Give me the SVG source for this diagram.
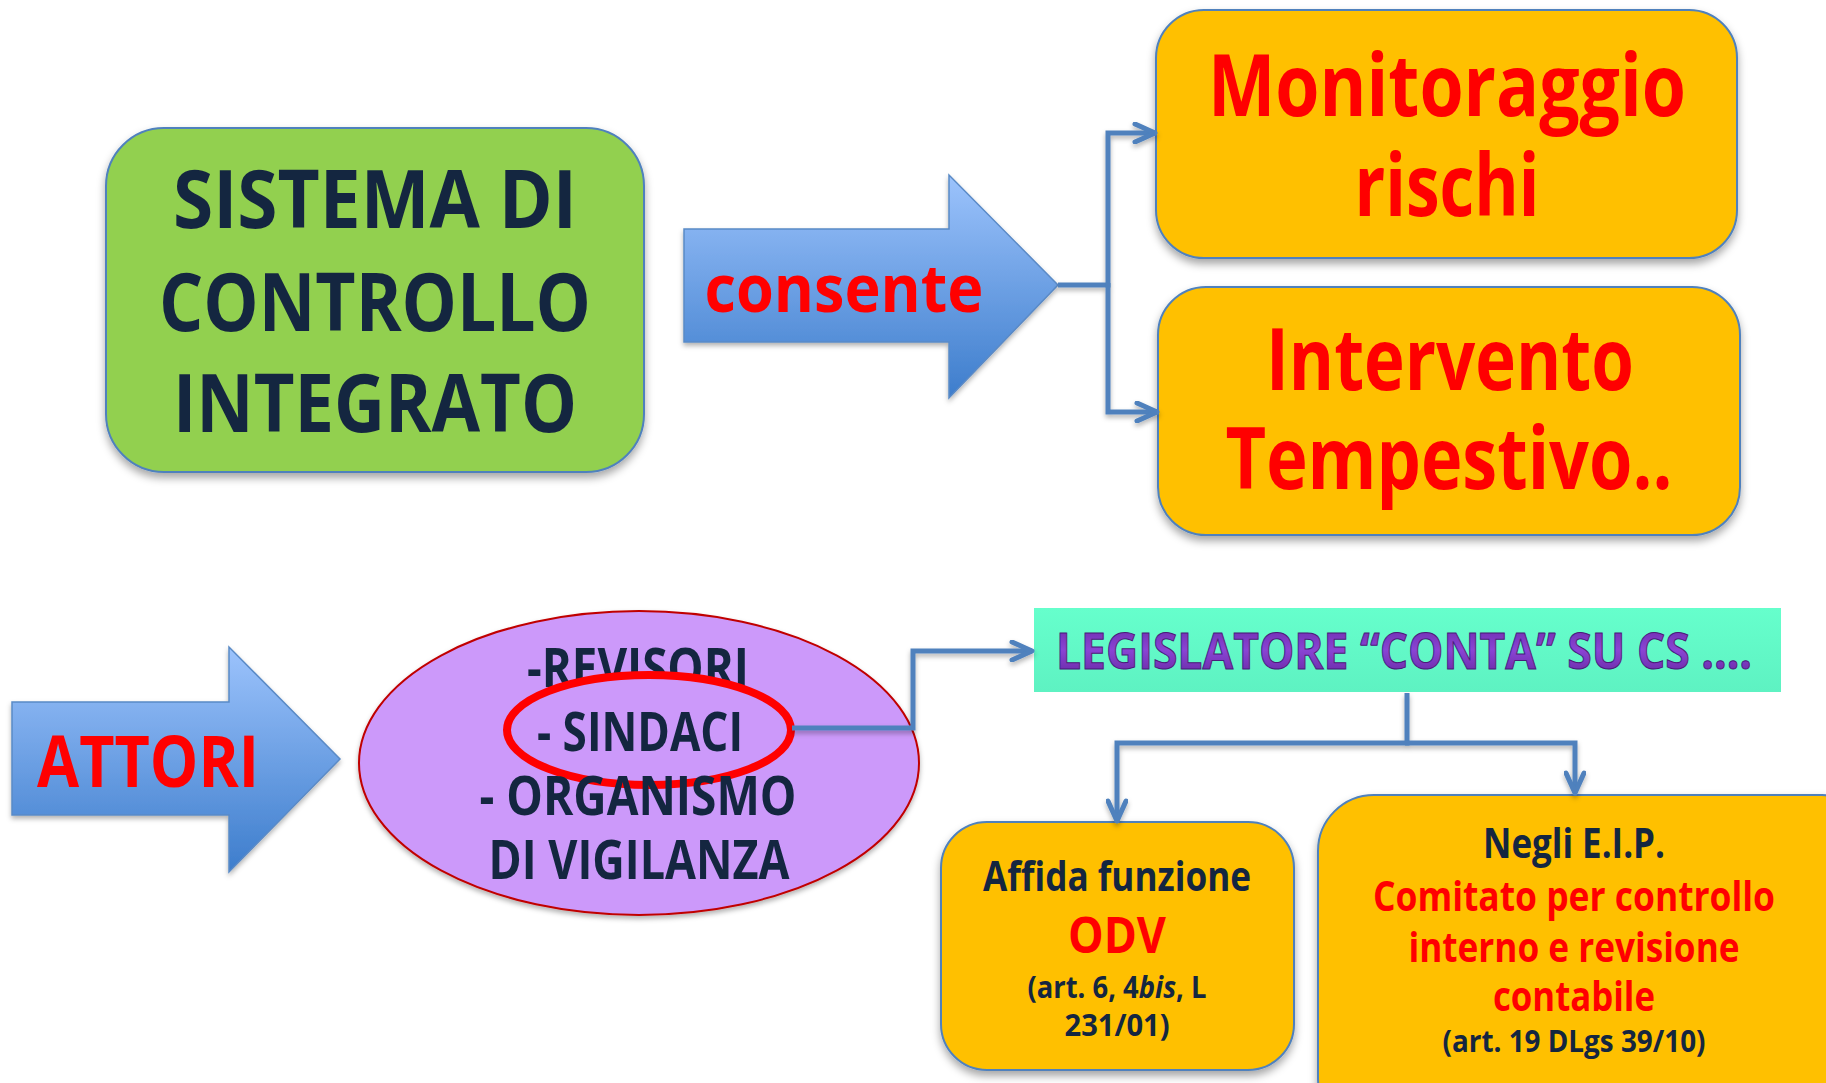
<svg xmlns="http://www.w3.org/2000/svg" width="1826" height="1083" viewBox="0 0 1826 1083">
<style>
  .t { font-family: "Open Sans", "Liberation Sans", sans-serif; font-weight: 700; text-anchor: middle; }
  .navy { fill: #142640; }
  .red { fill: #ff0000; }
  .box { stroke: #4f81bd; stroke-width: 2; }
  .org { fill: #ffc000; }
  .conn { fill: none; stroke: #4f81bd; stroke-width: 5; stroke-linejoin: miter; }
</style>
<defs>
  <filter id="sh" x="-10%" y="-10%" width="120%" height="130%">
    <feDropShadow dx="0" dy="5" stdDeviation="4" flood-color="#000" flood-opacity="0.35"/>
  </filter>
  <filter id="shs" x="-10%" y="-10%" width="120%" height="130%">
    <feDropShadow dx="0" dy="3" stdDeviation="2.5" flood-color="#000" flood-opacity="0.3"/>
  </filter>
  <linearGradient id="blue" x1="0" y1="0" x2="0" y2="1">
    <stop offset="0" stop-color="#9cc3fc"/>
    <stop offset="1" stop-color="#3d7dcc"/>
  </linearGradient>
  <linearGradient id="purp" x1="0" y1="0" x2="0" y2="1">
    <stop offset="0" stop-color="#6424a0"/>
    <stop offset="0.5" stop-color="#8a44d4"/>
    <stop offset="1" stop-color="#5e2296"/>
  </linearGradient>
  <linearGradient id="tealfade" x1="0" y1="0" x2="0" y2="1">
    <stop offset="0" stop-color="#66ffcc"/>
    <stop offset="1" stop-color="#5ef2c2"/>
  </linearGradient>
  <marker id="ah" markerUnits="userSpaceOnUse" viewBox="0 0 26 22" refX="23" refY="11" markerWidth="26" markerHeight="22" orient="auto">
    <path d="M3,2 L23,11 L3,20" fill="none" stroke="#4f81bd" stroke-width="5" stroke-linecap="round" stroke-linejoin="round"/>
  </marker>
</defs>

<g id="sistema">
  <rect x="106" y="128" width="538" height="344" rx="58" fill="#92d050" class="box" filter="url(#sh)"/>
  <text class="t navy" x="375" y="228" font-size="80" textLength="404" lengthAdjust="spacingAndGlyphs">SISTEMA DI</text>
  <text class="t navy" x="375" y="331" font-size="80" textLength="432" lengthAdjust="spacingAndGlyphs">CONTROLLO</text>
  <text class="t navy" x="375" y="432" font-size="80" textLength="404" lengthAdjust="spacingAndGlyphs">INTEGRATO</text>
</g>

<g id="consente">
  <path d="M684,229 H949 V175 L1058,285 L949,398 V342 H684 Z" fill="url(#blue)" stroke="#5a8ac6" stroke-width="1.5" filter="url(#shs)"/>
  <text class="t red" x="844" y="312" font-size="66" textLength="279" lengthAdjust="spacingAndGlyphs">consente</text>
</g>

<g id="monitoraggio">
  <rect x="1156" y="10" width="581" height="248" rx="48" class="box org" filter="url(#sh)"/>
  <text class="t red" x="1447" y="116" font-size="86" textLength="478" lengthAdjust="spacingAndGlyphs">Monitoraggio</text>
  <text class="t red" x="1447" y="216" font-size="86" textLength="185" lengthAdjust="spacingAndGlyphs">rischi</text>
</g>

<g id="intervento">
  <rect x="1158" y="287" width="582" height="248" rx="48" class="box org" filter="url(#sh)"/>
  <text class="t red" x="1450" y="390" font-size="86" textLength="368" lengthAdjust="spacingAndGlyphs">Intervento</text>
  <text class="t red" x="1449" y="489" font-size="86" textLength="447" lengthAdjust="spacingAndGlyphs">Tempestivo..</text>
</g>

<g id="attori">
  <path d="M12,702 H229 V647 L340,759 L229,872 V815 H12 Z" fill="url(#blue)" stroke="#5a8ac6" stroke-width="1.5" filter="url(#shs)"/>
  <text class="t red" x="148" y="787" font-size="72" textLength="222" lengthAdjust="spacingAndGlyphs">ATTORI</text>
</g>

<g id="soggetti">
  <ellipse cx="639" cy="763" rx="280" ry="152" fill="#cc99fa" stroke="#c00000" stroke-width="2" filter="url(#shs)"/>
  <text class="t navy" x="638" y="687" font-size="54" textLength="222" lengthAdjust="spacingAndGlyphs">-REVISORI</text>
  <ellipse cx="649" cy="730" rx="142" ry="55" fill="#cc99fa" stroke="#ff0000" stroke-width="8"/>
  <text class="t navy" x="640" y="751" font-size="54" textLength="206" lengthAdjust="spacingAndGlyphs">- SINDACI</text>
  <text class="t navy" x="638" y="815" font-size="54" textLength="317" lengthAdjust="spacingAndGlyphs">- ORGANISMO</text>
  <text class="t navy" x="639" y="879" font-size="54" textLength="301" lengthAdjust="spacingAndGlyphs">DI VIGILANZA</text>
</g>

<g id="legislatore">
  <rect x="1034" y="608" width="747" height="84" fill="url(#tealfade)"/>
  <text class="t" x="1404" y="669" font-size="50" textLength="696" lengthAdjust="spacingAndGlyphs" fill="url(#purp)" stroke="#4a1a7a" stroke-width="1">LEGISLATORE “CONTA” SU CS ....</text>
</g>

<g id="odv">
  <rect x="941" y="822" width="353" height="248" rx="46" class="box org" filter="url(#sh)"/>
  <text class="t navy" x="1117" y="891" font-size="41" textLength="268" lengthAdjust="spacingAndGlyphs">Affida funzione</text>
  <text class="t red" x="1117" y="953" font-size="50" textLength="98" lengthAdjust="spacingAndGlyphs">ODV</text>
  <text class="t navy" x="1117" y="998" font-size="30" textLength="179" lengthAdjust="spacingAndGlyphs">(art. 6, 4<tspan font-style="italic">bis</tspan>, L</text>
  <text class="t navy" x="1117" y="1036" font-size="30" textLength="105" lengthAdjust="spacingAndGlyphs">231/01)</text>
</g>

<g id="eip">
  <rect x="1318" y="795" width="560" height="340" rx="56" class="box org" filter="url(#sh)"/>
  <text class="t navy" x="1574" y="858" font-size="41" textLength="182" lengthAdjust="spacingAndGlyphs">Negli E.I.P.</text>
  <text class="t red" x="1574" y="911" font-size="41" textLength="402" lengthAdjust="spacingAndGlyphs">Comitato per controllo</text>
  <text class="t red" x="1574" y="962" font-size="41" textLength="331" lengthAdjust="spacingAndGlyphs">interno e revisione</text>
  <text class="t red" x="1574" y="1011" font-size="41" textLength="162" lengthAdjust="spacingAndGlyphs">contabile</text>
  <text class="t navy" x="1574" y="1052" font-size="30" textLength="263" lengthAdjust="spacingAndGlyphs">(art. 19 DLgs 39/10)</text>
</g>

<g id="connectors" filter="url(#shs)">
  <path class="conn" d="M1058,285 H1108 V133 H1155" marker-end="url(#ah)"/>
  <path class="conn" d="M1108,283 V412 H1157" marker-end="url(#ah)"/>
  <path class="conn" d="M792,728 H913 V651 H1032" marker-end="url(#ah)"/>
  <path class="conn" d="M1407,693 V743 H1117 V821" marker-end="url(#ah)"/>
  <path class="conn" d="M1405,743 H1575 V793" marker-end="url(#ah)"/>
</g>
</svg>
